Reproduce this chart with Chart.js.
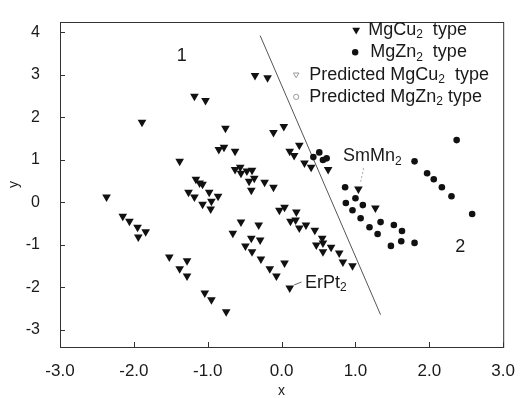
<!DOCTYPE html>
<html>
<head>
<meta charset="utf-8">
<script src="https://cdn.jsdelivr.net/npm/chart.js@4/dist/chart.umd.min.js"></script>
<style>
  body { margin: 0; background: #fff; }
</style>
</head>
<body>
<canvas id="chart1" width="521" height="398"></canvas>
<script>
    var FONT = '"Liberation Sans", Arial, sans-serif';

    // MgCu2 type (filled triangles)
    var cuX = [-1.89, -1.38, -2.37, -2.15, -2.06, -1.95, -1.84, -1.94, -1.52, -1.28, -1.38, -1.28, -1.04, -0.95, -0.75,
      -1.18, -1.03, -0.36, -0.19, -0.76, -0.11, 0.03, -0.85, -0.78, -0.63, -0.56, -0.63, -0.55, -0.47, -0.40,
      -0.44, -0.37, -0.23, -0.11, -0.41, -1.16, -1.11, -1.07, -1.26, -1.18, -0.98, -0.86, -0.95, -1.07, -0.96,
      -0.03, 0.04, 0.20, 0.12, 0.19, 0.24, 0.33, 0.45, 0.55, 0.47, 0.56, 0.67, 0.56, 0.78, 0.83, 0.96,
      -0.55, -0.31, -0.66, -0.41, -0.29, -0.49, -0.40, -0.28, 0.04, -0.16, -0.07, 0.11,
      0.11, 0.17, 0.24, 0.31, 0.40, 0.63, 1.04, 1.27];
    var cuY = [1.88, 0.96, 0.12, -0.33, -0.45, -0.59, -0.70, -0.82, -1.29, -1.38, -1.57, -1.74, -2.14, -2.30, -2.58,
      2.49, 2.39, 2.98, 2.93, 1.74, 1.64, 1.78, 1.24, 1.29, 1.20, 0.82, 0.77, 0.68, 0.73, 0.75,
      0.49, 0.56, 0.47, 0.35, 0.28, 0.54, 0.45, 0.42, 0.23, 0.12, 0.23, 0.14, 0.02, -0.05, -0.16,
      -0.19, -0.12, -0.23, -0.45, -0.42, -0.61, -0.54, -0.66, -0.85, -1.01, -0.96, -1.06, -1.17, -1.20, -1.41, -1.50,
      -0.47, -0.54, -0.73, -0.85, -0.89, -1.03, -1.17, -1.34, -1.43, -1.57, -1.74, -2.02,
      1.20, 1.10, 1.34, 0.92, 0.82, 0.77, 0.31, -0.14];

    // MgZn2 type (filled circles)
    var znX = [0.51, 0.43, 0.56, 0.61, 0.86, 1.00, 0.87, 0.96, 1.10, 1.07, 1.34, 1.52, 1.19, 1.30, 1.63, 1.62, 1.48, 1.80,
      2.37, 1.80, 1.97, 2.06, 2.17, 2.30, 2.58];
    var znY = [1.17, 1.06, 0.99, 1.03, 0.35, 0.09, -0.02, -0.19, -0.07, -0.38, -0.47, -0.54, -0.59, -0.75, -0.68, -0.92, -1.03, -0.96,
      1.46, 0.96, 0.68, 0.54, 0.35, 0.14, -0.28];

    // separating line and leader lines
    var boundaryX = [-0.29, 1.34];
    var boundaryY = [3.92, -2.65];
    var smLeaderX = [1.11, 1.07];
    var smLeaderY = [0.80, 0.47];
    var erLeaderX = [0.17, 0.27];
    var erLeaderY = [-1.95, -1.88];

    // text labels inside the plot ("_2" = subscript 2)
    var noteText = ['1', '2', 'SmMn_2', 'ErPt_2'];
    var noteX = [-1.35, 2.42, 1.23, 0.60];
    var noteY = [3.45, -1.06, 1.08, -1.90];

    var legendText = ['MgCu_2  type', 'MgZn_2  type', 'Predicted MgCu_2  type', 'Predicted MgZn_2 type'];
    var legendMarker = ['triangle', 'circle', 'openTriangle', 'openCircle'];

    var xTicks = [-3, -2, -1, 0, 1, 2, 3];
    var yTicks = [-3, -2, -1, 0, 1, 2, 3, 4];

    function toPoints(xs, ys) {
      return xs.map(function (x, i) { return {x: x, y: ys[i]}; });
    }

    function drawRich(ctx, text, x, y, size, align) {
      var parts = text.split(/_(\d)/);
      var widths = parts.map(function (p, i) {
        ctx.font = (i % 2 ? Math.round(size * 0.68) : size) + 'px ' + FONT;
        return ctx.measureText(p).width;
      });
      var total = widths.reduce(function (a, b) { return a + b; }, 0);
      if (align === 'center') x -= total / 2;
      ctx.textAlign = 'left';
      ctx.textBaseline = 'middle';
      parts.forEach(function (p, i) {
        ctx.font = (i % 2 ? Math.round(size * 0.68) : size) + 'px ' + FONT;
        ctx.fillText(p, x, i % 2 ? y + size * 0.28 : y);
        x += widths[i];
      });
    }

    function drawMarker(ctx, type, x, y) {
      ctx.save();
      ctx.beginPath();
      if (type === 'triangle' || type === 'openTriangle') {
        var r = type === 'triangle' ? 4.5 : 3.2;
        ctx.moveTo(x - r * 0.87, y - r / 2);
        ctx.lineTo(x + r * 0.87, y - r / 2);
        ctx.lineTo(x, y + r);
        ctx.closePath();
      } else {
        ctx.arc(x, y, type === 'circle' ? 3.2 : 2.6, 0, Math.PI * 2);
      }
      if (type === 'triangle' || type === 'circle') {
        ctx.fillStyle = '#111';
        ctx.fill();
      } else {
        ctx.strokeStyle = '#999';
        ctx.lineWidth = 1;
        ctx.stroke();
      }
      ctx.restore();
    }

    var framePlugin = {
      id: 'frame',
      afterDraw: function (chart) {
        var ctx = chart.ctx;
        var a = chart.chartArea;
        var xs = chart.scales.x;
        var ys = chart.scales.y;
        ctx.save();
        ctx.strokeStyle = '#333';
        ctx.lineWidth = 1;
        ctx.strokeRect(a.left + 0.5, a.top + 0.5, a.right - a.left, a.bottom - a.top);
        ctx.beginPath();
        xTicks.forEach(function (v) {
          var px = Math.round(xs.getPixelForValue(v)) + 0.5;
          ctx.moveTo(px, a.bottom);
          ctx.lineTo(px, a.bottom - 5);
        });
        yTicks.forEach(function (v) {
          var py = Math.round(ys.getPixelForValue(v)) + 0.5;
          ctx.moveTo(a.left, py);
          ctx.lineTo(a.left + 5, py);
        });
        ctx.stroke();

        ctx.fillStyle = '#1a1a1a';
        noteText.forEach(function (t, i) {
          drawRich(ctx, t, xs.getPixelForValue(noteX[i]), ys.getPixelForValue(noteY[i]), 18, 'center');
        });

        var markerOff = [-147, -148, -207, -207];
        var textOff = [-135, -133, -194, -194];
        legendText.forEach(function (t, i) {
          var y = a.top + 8 + i * 22.3;
          drawMarker(ctx, legendMarker[i], a.right + markerOff[i], y);
          ctx.fillStyle = '#1a1a1a';
          drawRich(ctx, t, a.right + textOff[i], y, 18, 'left');
        });
        ctx.restore();
      }
    };

    var ctx = document.getElementById('chart1').getContext('2d');
    new Chart(ctx, {
      type: 'scatter',
      data: {
        datasets: [
          {
            label: 'MgCu2 type',
            data: toPoints(cuX, cuY),
            pointStyle: 'triangle',
            rotation: 180,
            pointRadius: 5,
            borderWidth: 0,
            backgroundColor: '#111'
          },
          {
            label: 'MgZn2 type',
            data: toPoints(znX, znY),
            pointStyle: 'circle',
            pointRadius: 3.3,
            borderWidth: 0,
            backgroundColor: '#111'
          },
          {
            label: 'boundary',
            data: toPoints(boundaryX, boundaryY),
            showLine: true,
            pointRadius: 0,
            borderColor: '#555',
            borderWidth: 1
          },
          {
            label: 'SmMn2 leader',
            data: toPoints(smLeaderX, smLeaderY),
            showLine: true,
            pointRadius: 0,
            borderColor: '#aaa',
            borderWidth: 1,
            borderDash: [2, 2]
          },
          {
            label: 'ErPt2 leader',
            data: toPoints(erLeaderX, erLeaderY),
            showLine: true,
            pointRadius: 0,
            borderColor: '#666',
            borderWidth: 1
          }
        ]
      },
      options: {
        responsive: false,
        animation: false,
        devicePixelRatio: 1,
        layout: { padding: { top: 22, right: 11, left: 0, bottom: 0 } },
        plugins: {
          legend: { display: false },
          tooltip: { enabled: false }
        },
        scales: {
          x: {
            type: 'linear',
            min: -3,
            max: 3,
            afterBuildTicks: function (scale) {
              scale.ticks = xTicks.map(function (v) { return {value: v}; });
            },
            afterFit: function (scale) { scale.height = 51; },
            grid: { display: false },
            border: { display: false },
            ticks: {
              padding: 6,
              maxRotation: 0,
              color: '#1a1a1a',
              font: { family: FONT, size: 17 },
              callback: function (v) { return v.toFixed(1); }
            },
            title: {
              display: true,
              text: 'x',
              color: '#1a1a1a',
              padding: 0,
              font: { family: FONT, size: 14, lineHeight: 1 }
            }
          },
          y: {
            type: 'linear',
            min: -3.41,
            max: 4.24,
            afterBuildTicks: function (scale) {
              scale.ticks = yTicks.map(function (v) { return {value: v}; });
            },
            afterFit: function (scale) { scale.width = 60; },
            grid: { display: false },
            border: { display: false },
            ticks: {
              padding: 12,
              color: '#1a1a1a',
              font: { family: FONT, size: 16 }
            },
            title: {
              display: true,
              text: 'y',
              color: '#1a1a1a',
              padding: { top: 6, bottom: 0 },
              font: { family: FONT, size: 14 }
            }
          }
        }
      },
      plugins: [framePlugin]
    });
</script>
</body>
</html>
